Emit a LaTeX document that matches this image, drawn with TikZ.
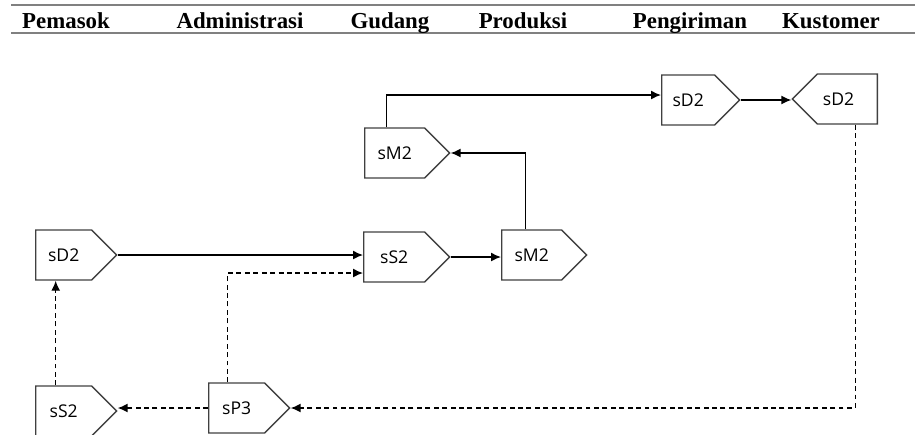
\documentclass[tikz,border=0pt]{standalone}
\usepackage{fontspec}
\setmainfont{Liberation Serif}
\newfontfamily\proses{Open Sans}
\usetikzlibrary{arrows.meta,shapes.symbols}

\begin{document}
\begin{tikzpicture}[x=0.02cm, y=-0.02cm, >={Latex[length=2mm,width=1.8mm]}, line width=0.8pt,
  proc/.style={signal, signal to=east, signal from=nowhere, draw=black!75, line width=0.8pt,
    minimum width=1.7cm, minimum height=1cm, inner sep=0pt, anchor=west,
    font=\proses\fontsize{10}{12}\selectfont},
  procL/.style={proc, signal to=west, anchor=east},
  kepala/.style={font=\bfseries\fontsize{13}{15}\selectfont, anchor=base},
  garis/.style={black!50, line width=1.4pt},
  putus/.style={dash pattern=on 2.8pt off 2pt}]
  \useasboundingbox (0,0) rectangle (915,434);
  % baris judul
  \draw[garis] (11,5) -- (915,5);
  \draw[garis] (11,33) -- (915,33);
  \node[kepala] (hPem) at (66,28){Pemasok};
  \node[kepala] (hAdm) at (240,28){Administrasi};
  \node[kepala] (hGud) at (390,28){Gudang};
  \node[kepala] (hPro) at (523,28){Produksi};
  \node[kepala] (hPeng) at (690,28){Pengiriman};
  \node[kepala] (hKus) at (831,28){Kustomer};
  % proses
  \node[proc, minimum width=1.62cm] (sD2a) at (35,255){sD2};
  \node[proc, minimum width=1.62cm] (sS2b) at (35,411){sS2};
  \node[proc, minimum width=1.62cm] (sP3) at (208,408){sP3};
  \node[proc, minimum width=1.72cm] (sS2g) at (363,257){sS2};
  \node[proc] (sM2p) at (501,255){sM2};
  \node[proc] (sM2t) at (364,153){sM2};
  \node[proc, minimum width=1.56cm] (sD2p) at (661,100){sD2};
  \node[procL] (sD2k) at (878,99){sD2\kern0.35cm};
  % aliran barang
  \draw[->] (sD2a.east) -- (sD2a.east -| sS2g.west);
  \draw[->] (sS2g.east) -- (sS2g.east -| sM2p.west);
  \draw[->] ([xshift=-0.12cm]sM2p.north) |- (sM2t.east);
  \draw[->] ([xshift=-0.16cm]sM2t.north) |- ([yshift=0.1cm]sD2p.west);
  \draw[->] (sD2p.east) -- (sD2p.east -| sD2k.west);
  % aliran informasi
  \draw[->, putus] ([xshift=0.16cm]sD2k.south) |- (sP3.east);
  \draw[->, putus] (sP3.west) -- (sP3.west -| sS2b.east);
  \draw[->, putus] ([xshift=-0.16cm]sS2b.north) -- ([xshift=-0.16cm]sD2a.south);
  \draw[->, putus] ([xshift=-0.18cm]sP3.north) |- ([yshift=-0.32cm]sS2g.west);
\end{tikzpicture}
\end{document}
